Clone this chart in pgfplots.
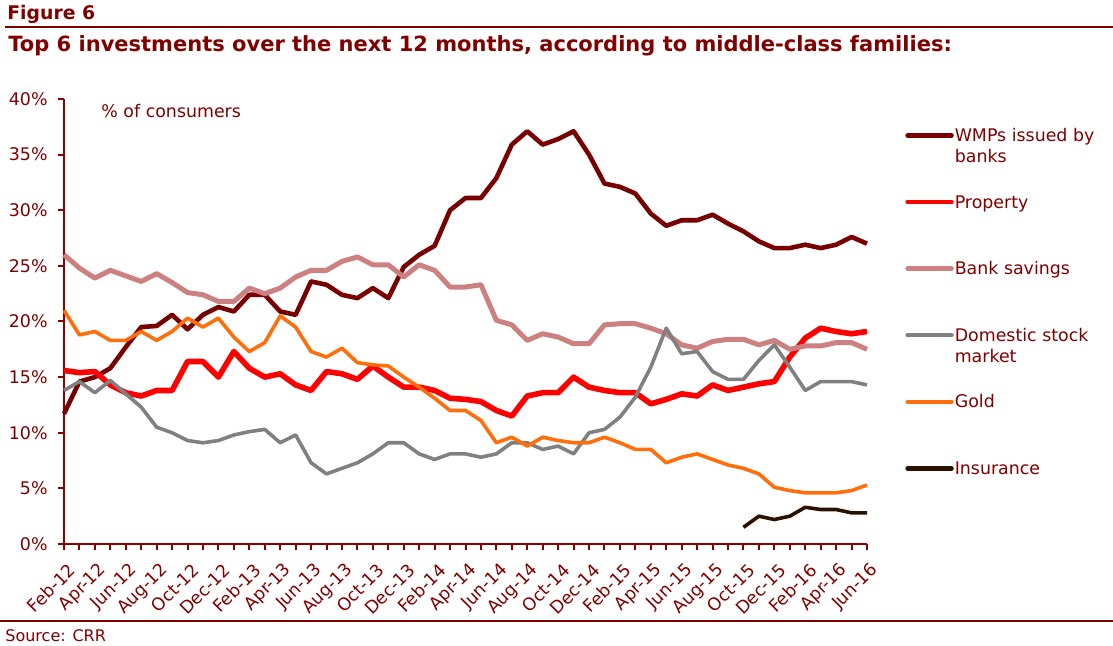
\documentclass[border=0pt]{standalone}
\usepackage{fontspec}
\setmainfont{DejaVu Sans}
\usepackage{pgfplots}
\usepackage{pgfplotstable}
\pgfplotsset{compat=1.18}

\definecolor{txtred}{RGB}{128,0,0}
\definecolor{axred}{RGB}{140,0,0}
\definecolor{wmp}{RGB}{120,0,0}
\definecolor{prop}{RGB}{255,0,0}
\definecolor{bank}{RGB}{204,128,128}
\definecolor{dom}{RGB}{128,128,128}
\definecolor{gold}{RGB}{255,110,10}
\definecolor{ins}{RGB}{42,17,0}

% monthly shares in %, Feb-12 = 0 ... Jun-16 = 52
\pgfplotstableread{
x  wmp  prop bank dom  gold
0  11.7 15.6 26.0 13.8 21.0
1  14.6 15.4 24.8 14.6 18.8
2  15.0 15.5 23.9 13.6 19.1
3  15.8 14.3 24.6 14.7 18.3
4  17.7 13.6 24.1 13.5 18.3
5  19.5 13.3 23.6 12.3 19.1
6  19.6 13.8 24.3 10.5 18.3
7  20.6 13.8 23.5 10.0 19.1
8  19.3 16.4 22.6 9.3  20.3
9  20.6 16.4 22.4 9.1  19.5
10 21.3 15.0 21.8 9.3  20.3
11 20.9 17.3 21.8 9.8  18.6
12 22.4 15.8 23.0 10.1 17.3
13 22.4 15.0 22.5 10.3 18.1
14 20.9 15.3 23.0 9.1  20.5
15 20.6 14.3 24.0 9.8  19.5
16 23.6 13.8 24.6 7.3  17.3
17 23.3 15.5 24.6 6.3  16.8
18 22.4 15.3 25.4 6.8  17.6
19 22.1 14.8 25.8 7.3  16.3
20 23.0 16.0 25.1 8.1  16.1
21 22.1 15.0 25.1 9.1  16.0
22 24.9 14.1 24.0 9.1  15.0
23 26.0 14.1 25.1 8.1  14.1
24 26.8 13.8 24.6 7.6  13.1
25 30.0 13.1 23.1 8.1  12.0
26 31.1 13.0 23.1 8.1  12.0
27 31.1 12.8 23.3 7.8  11.1
28 32.9 12.0 20.1 8.1  9.1
29 35.9 11.5 19.7 9.1  9.6
30 37.1 13.3 18.3 9.1  8.8
31 35.9 13.6 18.9 8.5  9.6
32 36.4 13.6 18.6 8.8  9.3
33 37.1 15.0 18.0 8.1  9.1
34 35.0 14.1 18.0 10.0 9.1
35 32.4 13.8 19.7 10.3 9.6
36 32.1 13.6 19.8 11.4 9.1
37 31.5 13.6 19.8 13.2 8.5
38 29.7 12.6 19.4 15.9 8.5
39 28.6 13.0 18.9 19.4 7.3
40 29.1 13.5 17.9 17.1 7.8
41 29.1 13.3 17.6 17.3 8.1
42 29.6 14.3 18.2 15.5 7.6
43 28.8 13.8 18.4 14.8 7.1
44 28.1 14.1 18.4 14.8 6.8
45 27.2 14.4 17.9 16.5 6.3
46 26.6 14.6 18.3 17.9 5.1
47 26.6 16.8 17.5 15.9 4.8
48 26.9 18.5 17.8 13.8 4.6
49 26.6 19.4 17.8 14.6 4.6
50 26.9 19.1 18.1 14.6 4.6
51 27.6 18.9 18.1 14.6 4.8
52 27.0 19.1 17.5 14.3 5.3
}\maindata

\pgfplotstableread{
x  ins
44 1.5
45 2.5
46 2.2
47 2.5
48 3.3
49 3.1
50 3.1
51 2.8
52 2.8
}\insdata

\begin{document}
\begin{tikzpicture}
\useasboundingbox (-32pt,-51pt) rectangle (524.5pt,272pt);
\begin{axis}[
    name=ax,
    at={(0,0)}, anchor=south west,
    scale only axis,
    width=401.5pt, height=222.5pt,
    xmin=0, xmax=52, ymin=0, ymax=40,
    axis x line*=bottom, axis y line*=left,
    axis line style={draw=axred, line width=1.3pt},
    tick align=outside,
    major tick length=3pt, minor tick length=3pt,
    every tick/.style={draw=axred, line width=1pt},
    xtick={0,2,...,52},
    minor xtick={1,3,...,51},
    xticklabels={Feb-12,Apr-12,Jun-12,Aug-12,Oct-12,Dec-12,Feb-13,Apr-13,Jun-13,Aug-13,Oct-13,Dec-13,Feb-14,Apr-14,Jun-14,Aug-14,Oct-14,Dec-14,Feb-15,Apr-15,Jun-15,Aug-15,Oct-15,Dec-15,Feb-16,Apr-16,Jun-16},
    ytick={0,5,...,40},
    yticklabel={\pgfmathprintnumber{\tick}\%},
    /pgf/number format/assume math mode=true,
    tick label style={font=\fontsize{8.7}{10}\selectfont, text=txtred},
    x tick label style={rotate=45, anchor=east, inner sep=1pt, xshift=-2pt, yshift=-9pt},
    y tick label style={inner sep=1pt, xshift=-4pt},
    clip=false,
    legend style={at={(1.0473,0.9393)}, anchor=north west, draw=none, fill=none,
        inner sep=0pt, row sep=0pt,
        font=\fontsize{8.7}{10.5}\selectfont, text=txtred,
        nodes={inner sep=0.5pt, text height=7pt, text depth=25.3pt},
        cells={anchor=base west}},
    legend image code/.code={
        \draw[#1, line width=2.2pt, line cap=round] (0pt,3pt) -- (22pt,3pt);},
    every axis plot/.append style={line join=round},
]
\addplot[wmp, line width=2.3pt] table[x=x, y=wmp] {\maindata};
\addlegendentry{\parbox[t]{80pt}{\raggedright WMPs issued by\\banks}}
\addplot[prop, line width=2.8pt] table[x=x, y=prop] {\maindata};
\addlegendentry{Property}
\addplot[bank, line width=2.5pt] table[x=x, y=bank] {\maindata};
\addlegendentry{Bank savings}
\addplot[dom, line width=1.8pt] table[x=x, y=dom] {\maindata};
\addlegendentry{\parbox[t]{80pt}{\raggedright Domestic stock\\market}}
\addplot[gold, line width=1.8pt] table[x=x, y=gold] {\maindata};
\addlegendentry{Gold}
\addplot[ins, line width=1.8pt] table[x=x, y=ins] {\insdata};
\addlegendentry{Insurance}
\end{axis}

\node[anchor=west, text=txtred, font=\fontsize{8.7}{10}\selectfont, inner sep=0pt] at (18.5pt,216.5pt) {\% of consumers};
\node[anchor=base west, text=txtred, font=\bfseries\fontsize{9.4}{12}\selectfont, inner sep=0pt] at (-28.5pt,262pt) {Figure 6};
\draw[txtred, line width=1.1pt] (-29.5pt,258.5pt) -- (524.5pt,258.5pt);
\node[anchor=base west, text=txtred, font=\bfseries\fontsize{10.5}{13}\selectfont, inner sep=0pt] at (-28pt,246pt) {Top 6 investments over the next 12 months, according to middle-class families:};
\draw[txtred, line width=1.1pt] (-32pt,-38.5pt) -- (524.5pt,-38.5pt);
\node[anchor=west, text=txtred, font=\fontsize{8}{10}\selectfont, inner sep=0pt] at (-29.5pt,-46pt) {Source: CRR};
\end{tikzpicture}
\end{document}
